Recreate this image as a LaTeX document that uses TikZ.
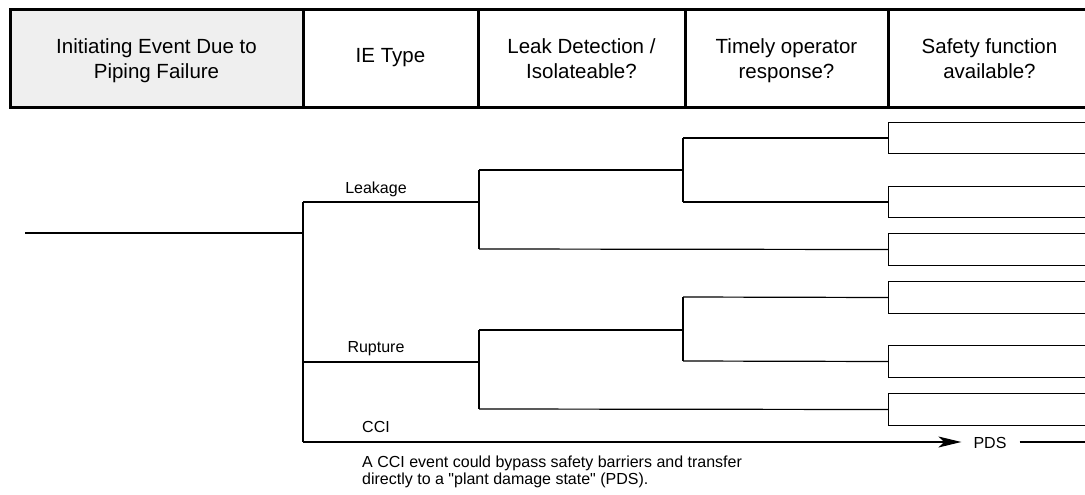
\documentclass[tikz,border=0pt]{standalone}
\usepackage{fontspec}
\setmainfont{Liberation Sans}
\usetikzlibrary{arrows.meta}
\definecolor{hdrfill}{RGB}{239,239,239}
\begin{document}
\begin{tikzpicture}[x=1pt,y=-1pt,
  tree/.style={line width=1.2pt, black},
  hdrline/.style={line width=3pt, black},
  hdrtext/.style={font=\fontsize{20.5}{25}\selectfont, align=center, inner sep=0pt},
  lbl/.style={font=\fontsize{16}{17}\selectfont, inner sep=0pt},
  leafbox/.style={draw, line width=1.2pt, anchor=west, minimum width=240pt,
    minimum height=31.5pt, inner sep=0pt},
  pt/.style={inner sep=0pt, minimum size=0pt}]
\useasboundingbox (0,0) rectangle (1085,495);
\clip (0,0) rectangle (1085,495);

% ---- column headings ----
\fill[hdrfill] (10,10) rectangle (303,107);
\draw[hdrline, line join=miter] (1100,10) -- (10,10) -- (10,107) -- (1100,107);
\foreach \x in {303,478,685,888} \draw[hdrline] (\x,10) -- (\x,107);

\node[hdrtext] (h1) at (156.5,61.5) {Initiating Event Due to\strut\\Piping Failure\strut};
\node[hdrtext] (h2) at (390.5,58) {IE Type\strut};
\node[hdrtext] (h3) at (581.5,61.5) {Leak Detection /\strut\\Isolateable?\strut};
\node[hdrtext] (h4) at (786.5,61.5) {Timely operator\strut\\response?\strut};
\node[hdrtext] (h5) at (989.5,61.5) {Safety function\strut\\available?\strut};

% ---- branch points ----
\coordinate (ie)  at (25,233);
\coordinate (n0t) at (303,202);
\coordinate (n0m) at (303,233);
\coordinate (n0r) at (303,362);
\coordinate (n0b) at (303,442);

% leakage
\coordinate (lk)  at (479,202);
\coordinate (lkt) at (479,170);
\coordinate (lkb) at (479,249);
\coordinate (lu)  at (683,170);
\coordinate (lut) at (683,138);
\coordinate (lub) at (683,202);

% rupture
\coordinate (rp)  at (479,362);
\coordinate (rpt) at (479,330);
\coordinate (rpb) at (479,409);
\coordinate (ru)  at (683,330);
\coordinate (rut) at (683,297);
\coordinate (rub) at (683,361);

% end-state boxes
\node[leafbox] (b1) at (888,138) {};
\node[leafbox] (b2) at (888,202) {};
\node[leafbox] (b3) at (888,249.5) {};
\node[leafbox] (b4) at (888,297.5) {};
\node[leafbox] (b5) at (888,361.5) {};
\node[leafbox] (b6) at (888,409.5) {};

% ---- tree lines ----
\draw[tree] (ie) -- (n0m);
\draw[tree] (n0t) -- (n0b);

\draw[tree] (n0t) -- (lk);
\draw[tree] (lkt) -- (lkb);
\draw[tree] (lkt) -- (lu);
\draw[tree] (lut) -- (lub);
\draw[tree] (lut) -- (b1.west);
\draw[tree] (lub) -- (b2.west);
\draw[tree] (lkb) -- (b3.west);

\draw[tree] (n0r) -- (rp);
\draw[tree] (rpt) -- (rpb);
\draw[tree] (rpt) -- (ru);
\draw[tree] (rut) -- (rub);
\draw[tree] (rut) -- (b4.west);
\draw[tree] (rub) -- (b5.west);
\draw[tree] (rpb) -- (b6.west);

% CCI bypass to plant damage state
\node[lbl] (pds) at (990,442.5) {PDS};
\coordinate (pdsend) at (1100,442);
\draw[tree, -{Stealth[length=23pt, width=11pt, inset=6pt]}, shorten >=12pt] (n0b) -- (n0b -| pds.west);
\draw[tree, shorten <=13pt] (pds.east |- n0b) -- (pdsend);

% branch labels
\node[lbl, anchor=base] (lleak) at (376,193) {Leakage};
\node[lbl, anchor=base] (lrup)  at (376,352) {Rupture};
\node[lbl, anchor=base] (lcci)  at (376,432) {CCI};

\node[font=\fontsize{16}{16}\selectfont, align=left, inner sep=0pt, anchor=north west] (note) at (362,455.8)
  {A CCI event could bypass safety barriers and transfer\strut\\directly to a \textquotedbl plant damage state\textquotedbl{} (PDS).\strut};
\end{tikzpicture}
\end{document}
